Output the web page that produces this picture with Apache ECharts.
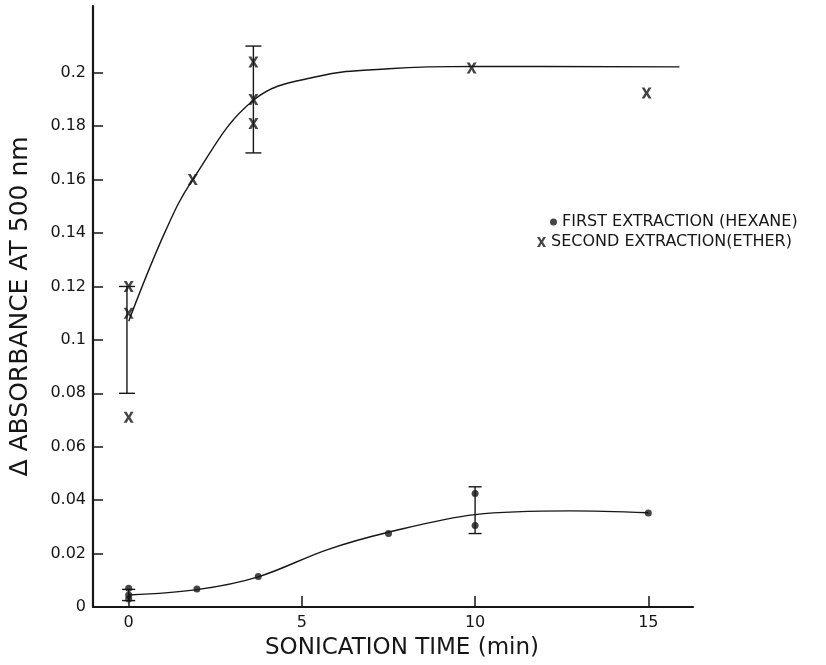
<!DOCTYPE html>
<html>
<head>
<meta charset="utf-8">
<script src="https://cdn.jsdelivr.net/npm/echarts@6/dist/echarts.min.js"></script>
<style>
  html, body { margin: 0; padding: 0; background: #fff; }
  #chart { width: 826px; height: 665px; }
</style>
</head>
<body>
<div id="chart"></div>
<script>
// Tick positions on both axes
const xTicks = [0, 5, 10, 15];
const yTicks = [0, 0.02, 0.04, 0.06, 0.08, 0.1, 0.12, 0.14, 0.16, 0.18, 0.2];

// First extraction (hexane): measured points
const hexaneTime = [0, 0, 0, 1.97, 3.74, 7.5, 10, 10, 15];
const hexaneAbs  = [0.007, 0.0045, 0.003, 0.0067, 0.0114, 0.0275, 0.0425, 0.0305, 0.0352];

// Second extraction (ether): measured points
const etherTime = [0, 0, 0, 1.85, 3.6, 3.6, 3.6, 9.9, 14.95];
const etherAbs  = [0.12, 0.11, 0.071, 0.16, 0.204, 0.19, 0.181, 0.2018, 0.1924];

// Hand-drawn trend curves
const hexaneCurveTime = [0, 1.97, 3.74, 5.74, 7.5, 10, 12.76, 15];
const hexaneCurveAbs  = [0.0045, 0.0065, 0.0113, 0.0215, 0.028, 0.0346, 0.036, 0.0353];
const etherCurveTime = [0, 1.07, 1.85, 3.6, 5.45, 7.5, 10, 15.9];
const etherCurveAbs  = [0.107, 0.141, 0.16, 0.1897, 0.1986, 0.2015, 0.2024, 0.2022];

// Error bars (time, low, high)
const etherErrTime = [-0.05, 3.6];
const etherErrLow  = [0.08, 0.17];
const etherErrHigh = [0.12, 0.21];
const hexaneErrTime = [0, 10];
const hexaneErrLow  = [0.0024, 0.0275];
const hexaneErrHigh = [0.0066, 0.045];

const HEXANE = 'FIRST EXTRACTION (HEXANE)';
const ETHER = 'SECOND EXTRACTION(ETHER)';

const INK = '#161616';
const FONT = 'DejaVu Sans';
const crossPath = 'path://M0,0H3L5,3.6L7,0H10L6.6,5.5L10,11H7L5,7.4L3,11H0L3.4,5.5Z';

const zip = (xs, ys) => xs.map((x, i) => [x, ys[i]]);
const zip3 = (xs, a, b) => xs.map((x, i) => [x, a[i], b[i]]);

function errorBar(capHalf) {
  return function (params, api) {
    const x = api.value(0);
    const lo = api.coord([x, api.value(1)]);
    const hi = api.coord([x, api.value(2)]);
    const style = { stroke: INK, lineWidth: 1.4 };
    return {
      type: 'group',
      children: [
        { type: 'line', shape: { x1: lo[0], y1: lo[1], x2: hi[0], y2: hi[1] }, style },
        { type: 'line', shape: { x1: lo[0] - capHalf, y1: lo[1], x2: lo[0] + capHalf, y2: lo[1] }, style },
        { type: 'line', shape: { x1: hi[0] - capHalf, y1: hi[1], x2: hi[0] + capHalf, y2: hi[1] }, style }
      ]
    };
  };
}

const chart = echarts.init(document.getElementById('chart'), null, { renderer: 'canvas' });

const legendText = { color: INK, fontFamily: FONT, fontSize: 16 };

chart.setOption({
  animation: false,
  backgroundColor: '#fff',
  textStyle: { fontFamily: FONT, color: INK },
  grid: { left: 92, right: 133, top: 6, bottom: 58 },
  legend: [
    {
      data: [{ name: HEXANE, icon: 'circle' }],
      left: 550, top: 214, padding: 0,
      itemWidth: 7, itemHeight: 7,
      selectedMode: false,
      textStyle: legendText
    },
    {
      data: [{ name: ETHER, icon: crossPath }],
      left: 537, top: 234, padding: 0,
      itemWidth: 9, itemHeight: 10,
      selectedMode: false,
      textStyle: legendText
    }
  ],
  xAxis: {
    type: 'value',
    min: -1.03,
    max: 16.29,
    name: 'SONICATION TIME (min)',
    nameLocation: 'middle',
    nameGap: 30,
    nameTextStyle: { fontFamily: FONT, fontSize: 23, color: INK, padding: [0, 0, 0, 18] },
    axisLine: { show: true, onZero: false, lineStyle: { color: INK, width: 2.2 } },
    axisTick: { show: true, inside: true, length: 11, customValues: xTicks, lineStyle: { color: INK, width: 1.5 } },
    axisLabel: { show: true, customValues: xTicks, margin: 8, fontFamily: FONT, fontSize: 16, color: INK },
    splitLine: { show: false }
  },
  yAxis: {
    type: 'value',
    min: 0,
    max: 0.225,
    name: 'Δ ABSORBANCE AT 500 nm',
    nameLocation: 'middle',
    nameRotate: 90,
    nameGap: 60,
    nameTextStyle: { fontFamily: FONT, fontSize: 25, color: INK },
    axisLine: { show: true, onZero: false, lineStyle: { color: INK, width: 2.2 } },
    axisTick: { show: true, inside: true, length: 10, customValues: yTicks, lineStyle: { color: INK, width: 1.5 } },
    axisLabel: { show: true, customValues: yTicks, margin: 7, fontFamily: FONT, fontSize: 16, color: INK },
    splitLine: { show: false }
  },
  series: [
    {
      name: 'hexane trend',
      type: 'line',
      data: zip(hexaneCurveTime, hexaneCurveAbs),
      smooth: 0.35,
      showSymbol: false,
      lineStyle: { color: INK, width: 1.4 },
      silent: true,
      z: 2
    },
    {
      name: 'ether trend',
      type: 'line',
      data: zip(etherCurveTime, etherCurveAbs),
      smooth: 0.4,
      showSymbol: false,
      lineStyle: { color: INK, width: 1.4 },
      silent: true,
      z: 2
    },
    {
      name: 'ether error',
      type: 'custom',
      data: zip3(etherErrTime, etherErrLow, etherErrHigh),
      encode: { x: 0, y: [1, 2] },
      renderItem: errorBar(8),
      silent: true,
      z: 3
    },
    {
      name: 'hexane error',
      type: 'custom',
      data: zip3(hexaneErrTime, hexaneErrLow, hexaneErrHigh),
      encode: { x: 0, y: [1, 2] },
      renderItem: errorBar(6.5),
      silent: true,
      z: 3
    },
    {
      name: HEXANE,
      type: 'scatter',
      data: zip(hexaneTime, hexaneAbs),
      symbol: 'circle',
      symbolSize: 7,
      itemStyle: { color: INK },
      z: 4
    },
    {
      name: ETHER,
      type: 'scatter',
      data: zip(etherTime, etherAbs),
      symbol: crossPath,
      symbolSize: [10, 11],
      itemStyle: { color: INK },
      z: 4
    }
  ]
});
</script>
</body>
</html>
